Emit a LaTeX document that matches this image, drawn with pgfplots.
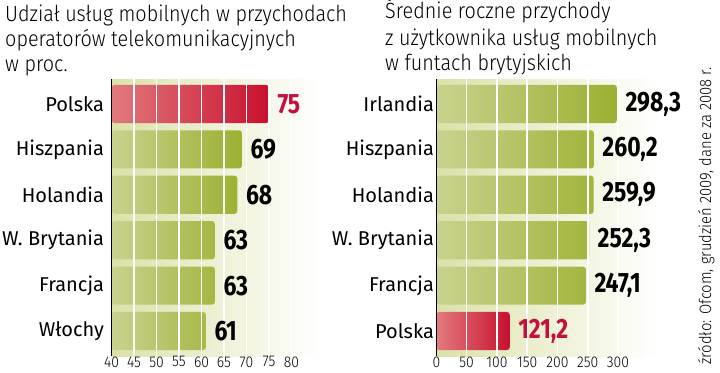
\documentclass[border=0pt]{standalone}
\usepackage{fontspec}
\setmainfont{Fira Sans}
\IfFontExistsTF{Fira Sans Light}{\newfontfamily\lightfont{Fira Sans Light}[FakeStretch=0.9]}{%
 \IfFontExistsTF{Lato Light}{\newfontfamily\lightfont{Lato Light}}{\newfontfamily\lightfont{Fira Sans}[FakeStretch=0.9]}}
\newfontfamily\valfont{Fira Sans}[FakeStretch=0.82]
\usepackage{pgfplots}
\pgfplotsset{compat=1.18}
\definecolor{bgolive}{HTML}{DCE1A8}
\definecolor{glight}{HTML}{C9D28E}
\definecolor{gdark}{HTML}{9CB030}
\definecolor{rlight}{HTML}{E27A7E}
\definecolor{rdark}{HTML}{C8102E}
\definecolor{rlab}{HTML}{C4103C}
\newcommand{\rfmt}{\pgfmathprintnumber[fixed,fixed zerofill,precision=1,use comma]{\pgfplotspointmeta}}
\pgfplotsset{
  mybars/.style={
    scale only axis, anchor=south west,
    y dir=reverse, ymin=-0.55, ymax=5.55, height=277bp,
    ytick={0,...,5},
    xmajorgrids, major grid style={white, line width=1.6bp},
    axis on top, axis line style={draw=none}, major tick length=0pt,
    /pgf/number format/assume math mode=true,
    x tick label style={font=\lightfont\fontsize{15.5bp}{15.5bp}\selectfont, yshift=3bp},
    y tick label style={font=\fontsize{20bp}{20bp}\selectfont},
    axis background/.style={left color=bgolive, right color=white},
    nodes near coords style={font=\valfont\bfseries\fontsize{28bp}{28bp}\selectfont, anchor=west, xshift=5bp},
  },
  gbar/.style={xbar, bar width=0.84, bar shift=0pt, draw=none, left color=glight, right color=gdark, rounded corners=3bp},
  rbar/.style={xbar, bar width=0.84, bar shift=0pt, draw=none, left color=rlight, right color=rdark, rounded corners=3bp, nodes near coords style={text=rlab}},
}
\begin{document}
\begin{tikzpicture}
\path[use as bounding box] (0bp,0bp) rectangle (720bp,373bp);
\begin{scope}[every node/.style={anchor=base west, inner sep=0pt, font=\lightfont\fontsize{22bp}{25bp}\selectfont}]
\node at (5bp,351.3bp) {Udział usług mobilnych w przychodach};
\node at (5bp,326.3bp) {operatorów telekomunikacyjnych};
\node at (5bp,301.3bp) {w proc.};
\node at (385bp,354bp) {Średnie roczne przychody};
\node at (385bp,327.3bp) {z użytkownika usług mobilnych};
\node at (385bp,302.3bp) {w funtach brytyjskich};
\end{scope}
\node[rotate=90, anchor=base west, inner sep=0pt, font=\lightfont\fontsize{16.5bp}{16.5bp}\selectfont] at (711bp,8bp) {źródło: Ofcom, grudzień 2009, dane za 2008 r.};

\begin{axis}[mybars, name=L, at={(111.5bp,17bp)}, width=207bp,
  x coord trafo/.code={\pgfmathparse{#1-40}},
  x coord inv trafo/.code={\pgfmathparse{#1+40}},
  xmin=40, xmax=86,
  xtick={45,50,...,80}, extra x ticks={40}, extra x tick style={grid=none},
  yticklabels={Polska,Hiszpania,Holandia,W. Brytania,Francja,Włochy},
  y tick label style={xshift=-4bp},
  point meta=rawx]
\addplot[rbar, nodes near coords] coordinates {(75,0)};
\addplot[gbar, nodes near coords] coordinates {(69,1) (68,2) (63,3) (63,4) (61,5)};
\end{axis}
\draw[black, line width=1.3bp] (L.south west) -- (L.north west);

\begin{axis}[mybars, name=R, at={(436.4bp,17bp)}, width=224bp,
  xmin=0, xmax=370,
  xtick={50,100,...,300}, extra x ticks={0}, extra x tick style={grid=none},
  yticklabels={Irlandia,Hiszpania,Holandia,W. Brytania,Francja,Polska},
  y tick label style={xshift=1bp},
  point meta=x]
\addplot[gbar, nodes near coords={\rfmt}] coordinates {(298.3,0) (260.2,1) (259.9,2) (252.3,3) (247.1,4)};
\addplot[rbar, nodes near coords={\rfmt}] coordinates {(121.2,5)};
\end{axis}
\draw[black, line width=1.3bp] (R.south west) -- (R.north west);
\end{tikzpicture}
\end{document}
